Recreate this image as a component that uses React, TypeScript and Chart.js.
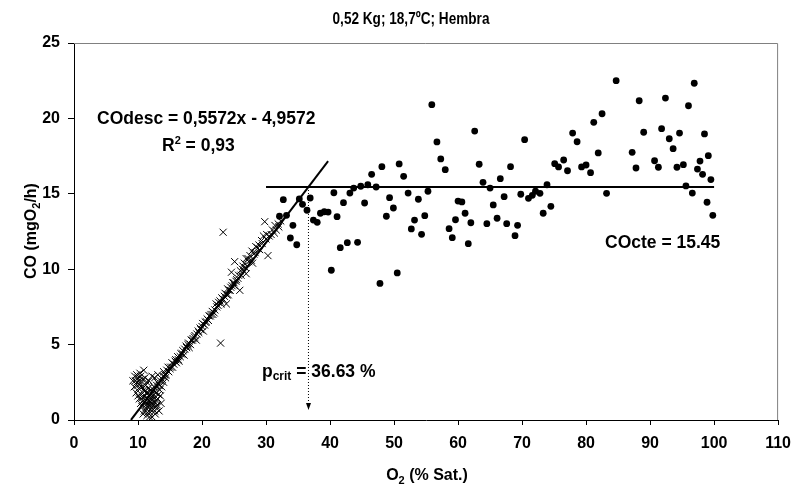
import React, { useEffect, useRef } from "react";
import { Chart, registerables } from "chart.js";

Chart.register(...registerables);

const FONT = '"Liberation Sans", Arial, Helvetica, sans-serif';

// Fitted relationships printed on the chart
const fitSlope = 0.5572;
const fitIntercept = -4.9572;
const fitR2 = "0,93";
const coConstant = 15.45;
const pCritical = 36.63;

// x extent of the two fitted segments
const fitRange = [8.9, 39.7];
const plateauRange = [30, 100];

const xTicks = [0, 10, 20, 30, 40, 50, 60, 70, 80, 90, 100, 110];
const yTicks = [0, 5, 10, 15, 20, 25];

// O2 (% sat.) vs CO (mgO2/h) while the oxygen was falling below the critical point
const hypoxicPoints: [number, number][] = [
  [9.2, 2.6], [9.4, 2.2], [9.5, 2.9], [9.6, 2.6], [9.7, 1.8], [9.8, 2.5], [9.8, 3.0],
  [9.9, 2.3], [10.0, 2.8], [10.0, 1.6], [10.1, 2.1], [10.2, 1.4], [10.2, 2.6], [10.3, 3.1],
  [10.4, 2.4], [10.4, 1.1], [10.4, 2.9], [10.5, 1.7], [10.6, 0.9], [10.6, 2.2], [10.7, 2.7],
  [10.7, 1.5], [10.8, 1.3], [10.8, 0.4], [10.9, 2.0], [10.9, 3.3], [11.0, 0.6], [11.0, 1.9],
  [11.0, 1.2], [11.1, 1.6], [11.1, 2.8], [11.2, 2.3], [11.2, 0.8], [11.3, 1.0], [11.3, 1.8],
  [11.4, 0.3], [11.4, 1.4], [11.4, 2.5], [11.5, 1.8], [11.5, 1.2], [11.5, 0.5], [11.6, 0.8],
  [11.6, 2.1], [11.7, 2.6], [11.7, 1.0], [11.8, 1.3], [11.8, 0.2], [11.8, 1.7], [11.9, 0.5],
  [11.9, 1.2], [12.0, 2.0], [12.0, 1.5], [12.0, 0.7], [12.1, 1.1], [12.1, 1.8], [12.2, 0.2],
  [12.2, 2.9], [12.2, 1.3], [12.3, 1.6], [12.3, 0.9], [12.4, 0.7], [12.4, 1.0], [12.4, 2.0],
  [12.5, 2.2], [12.5, 1.5], [12.6, 1.2], [12.6, 0.6], [12.6, 2.8], [12.7, 0.4], [12.7, 1.9],
  [12.8, 1.8], [12.8, 1.3], [12.9, 0.9], [12.9, 2.3], [13.0, 2.5], [13.0, 1.0], [13.1, 1.4],
  [13.1, 3.0], [13.2, 1.7], [13.3, 0.6], [13.3, 2.3], [13.4, 2.0], [13.5, 2.6], [13.5, 1.6],
  [13.6, 1.1], [13.7, 2.2], [13.8, 2.7], [13.9, 2.9], [14.0, 2.5], [14.0, 3.2], [14.2, 3.0],
  [14.3, 2.8], [14.4, 3.0], [14.5, 3.3], [14.7, 3.5], [14.8, 3.2], [15.0, 3.4], [15.1, 3.5],
  [15.3, 3.8], [15.4, 3.5], [15.6, 3.7], [15.8, 3.9], [15.9, 4.0], [16.0, 3.8], [16.2, 4.2],
  [16.3, 4.0], [16.4, 3.9], [16.6, 4.2], [16.7, 4.4], [16.9, 4.4], [17.0, 4.6], [17.2, 4.3],
  [17.3, 4.7], [17.5, 4.9], [17.6, 4.8], [17.8, 5.0], [17.9, 5.1], [18.0, 4.8], [18.2, 5.0],
  [18.3, 5.3], [18.5, 5.3], [18.6, 5.4], [18.8, 5.5], [18.9, 5.6], [19.1, 5.3], [19.2, 5.7],
  [19.4, 5.9], [19.5, 5.8], [19.7, 6.1], [19.8, 6.0], [20.0, 6.2], [20.1, 6.4], [20.2, 5.9],
  [20.4, 6.3], [20.5, 6.5], [20.7, 6.5], [20.8, 6.7], [21.0, 6.6], [21.1, 6.9], [21.3, 6.9],
  [21.4, 7.0], [21.6, 7.2], [21.7, 7.0], [21.9, 7.1], [22.0, 7.3], [22.2, 7.7], [22.3, 7.5],
  [22.5, 7.6], [22.6, 7.8], [22.8, 7.9], [22.9, 5.1], [23.0, 7.7], [23.1, 8.1], [23.3, 8.0],
  [23.3, 12.45], [23.5, 8.2], [23.6, 8.4], [23.8, 7.7], [23.9, 8.3], [24.0, 8.7], [24.1, 8.3],
  [24.2, 8.6], [24.4, 8.6], [24.5, 8.8], [24.6, 9.8], [24.7, 8.9], [24.8, 9.1], [25.0, 9.1],
  [25.1, 8.9], [25.1, 10.5], [25.3, 9.2], [25.4, 9.3], [25.6, 9.4], [25.7, 9.6], [25.9, 8.6],
  [26.0, 9.9], [26.1, 9.6], [26.3, 10.0], [26.4, 10.2], [26.6, 10.4], [26.8, 10.1], [26.9, 10.7],
  [26.9, 9.7], [27.2, 10.7], [27.3, 10.5], [27.5, 10.9], [27.7, 10.6], [27.8, 11.2], [27.9, 10.4],
  [28.1, 11.0], [28.3, 11.1], [28.4, 11.5], [28.7, 11.4], [28.9, 11.6], [29.0, 11.3], [29.3, 11.9],
  [29.4, 11.7], [29.6, 12.2], [29.8, 13.15], [30.0, 12.0], [30.1, 12.3], [30.3, 10.9], [30.5, 12.2],
  [30.8, 12.3], [31.0, 12.6], [31.3, 12.4], [31.4, 12.9], [31.6, 12.6], [31.9, 13.0], [32.0, 12.8],
  [32.3, 13.2]
];

// Readings at and above the critical saturation
const normoxicPoints: [number, number][] = [
  [32.1, 13.51], [32.7, 14.61], [33.2, 13.57], [33.8, 12.07], [34.2, 12.91], [34.8, 11.62],
  [35.2, 14.66], [35.7, 14.30], [36.4, 13.91], [36.9, 14.72], [37.4, 13.26], [38.0, 13.11],
  [38.5, 13.71], [39.1, 13.81], [39.7, 13.79], [40.2, 9.93], [40.6, 15.07], [41.1, 13.48],
  [41.6, 11.43], [42.1, 14.41], [42.7, 11.76], [43.1, 15.05], [43.7, 15.38], [44.3, 11.78],
  [44.8, 15.50], [45.4, 14.39], [45.9, 15.60], [46.5, 16.29], [47.2, 15.45], [47.8, 9.06],
  [48.1, 16.80], [48.8, 13.51], [49.3, 14.74], [49.9, 14.06], [50.5, 9.75], [50.8, 16.98],
  [51.5, 16.16], [52.2, 15.05], [52.7, 12.67], [53.2, 13.26], [53.8, 14.64], [54.3, 12.31],
  [54.8, 13.55], [55.3, 15.17], [55.9, 20.91], [56.7, 18.44], [57.3, 17.31], [58.0, 16.60],
  [58.6, 12.69], [59.1, 12.09], [59.6, 13.28], [60.0, 14.52], [60.6, 14.46], [61.1, 13.71],
  [61.6, 11.69], [62.0, 13.08], [62.6, 19.16], [63.3, 16.96], [63.9, 15.76], [64.5, 13.02],
  [65.0, 15.38], [65.5, 14.26], [66.1, 13.38], [66.6, 16.00], [67.2, 14.81], [67.6, 13.02],
  [68.2, 16.80], [68.9, 12.22], [69.3, 12.91], [69.8, 14.97], [70.4, 18.59], [71.0, 14.70],
  [71.6, 14.90], [72.1, 15.17], [72.8, 15.03], [73.3, 13.71], [73.9, 15.60], [74.5, 14.17],
  [75.1, 17.00], [75.7, 16.78], [76.5, 17.24], [77.1, 16.53], [77.9, 19.03], [78.6, 18.45],
  [79.3, 16.78], [80.0, 16.91], [80.7, 16.40], [81.2, 19.74], [81.9, 17.71], [82.5, 20.31],
  [83.2, 15.03], [84.7, 22.50], [87.2, 17.75], [87.8, 16.71], [88.3, 21.17], [89.0, 19.08],
  [90.7, 17.19], [91.3, 16.76], [91.8, 19.32], [92.4, 21.35], [93.0, 18.65], [93.6, 17.99],
  [94.2, 16.76], [94.6, 19.03], [95.2, 16.93], [95.6, 15.52], [96.0, 20.84], [96.6, 15.05],
  [96.9, 22.33], [97.4, 16.64], [97.8, 17.17], [98.2, 16.29], [98.5, 18.97], [98.9, 14.44],
  [99.1, 17.53], [99.5, 15.94], [99.8, 13.57]
];

type Run = { t: string; size: number; dy?: number };

function runsWidth(ctx: CanvasRenderingContext2D, runs: Run[]) {
  let w = 0;
  for (const r of runs) {
    ctx.font = `bold ${r.size}px ${FONT}`;
    w += ctx.measureText(r.t).width;
  }
  return w;
}

// Draws a line of mixed-size text; y is the baseline of the main text
function drawRuns(
  ctx: CanvasRenderingContext2D,
  runs: Run[],
  x: number,
  y: number,
  align: "left" | "center"
) {
  ctx.textBaseline = "alphabetic";
  ctx.textAlign = "left";
  let cx = align === "center" ? x - runsWidth(ctx, runs) / 2 : x;
  for (const r of runs) {
    ctx.font = `bold ${r.size}px ${FONT}`;
    ctx.fillText(r.t, cx, y + (r.dy || 0));
    cx += ctx.measureText(r.t).width;
  }
}

const labelsPlugin = {
  id: "labels",
  beforeDatasetsDraw(chart: any) {
    const { ctx, chartArea } = chart;
    ctx.save();
    ctx.strokeStyle = "#808080";
    ctx.lineWidth = 1;
    ctx.beginPath();
    ctx.moveTo(chartArea.left, chartArea.top + 0.5);
    ctx.lineTo(chartArea.right - 0.5, chartArea.top + 0.5);
    ctx.lineTo(chartArea.right - 0.5, chartArea.bottom);
    ctx.stroke();
    ctx.restore();
  },
  afterDraw(chart: any) {
    const { ctx } = chart;
    const xs = chart.scales.x;
    const ys = chart.scales.y;
    ctx.save();
    ctx.fillStyle = "#000";

    // chart title, set in a narrow face
    ctx.save();
    ctx.translate(411, 24);
    ctx.scale(0.8, 1);
    drawRuns(ctx, [{ t: "0,52 Kg; 18,7ºC; Hembra", size: 17 }], 0, 0, "center");
    ctx.restore();

    // axis titles
    drawRuns(
      ctx,
      [{ t: "O", size: 16 }, { t: "2", size: 11, dy: 4 }, { t: " (% Sat.)", size: 16 }],
      427,
      480,
      "center"
    );
    ctx.save();
    ctx.translate(36, 231);
    ctx.rotate(-Math.PI / 2);
    drawRuns(
      ctx,
      [{ t: "CO (mgO", size: 16 }, { t: "2", size: 11, dy: 4 }, { t: "/h)", size: 16 }],
      0,
      0,
      "center"
    );
    ctx.restore();

    // fitted equations
    const s = 17.5;
    const sign = fitIntercept < 0 ? " - " : " + ";
    const fmt = (v: number) => v.toFixed(4).replace(".", ",");
    drawRuns(
      ctx,
      [{ t: `COdesc = ${fmt(fitSlope)}x${sign}${fmt(Math.abs(fitIntercept))}`, size: s }],
      97,
      124,
      "left"
    );
    drawRuns(
      ctx,
      [{ t: "R", size: s }, { t: "2", size: 11, dy: -7 }, { t: ` = ${fitR2}`, size: s }],
      162,
      151,
      "left"
    );
    drawRuns(
      ctx,
      [{ t: "p", size: s }, { t: "crit", size: 12, dy: 3 }, { t: ` = ${pCritical.toFixed(2)} %`, size: s }],
      262,
      377,
      "left"
    );
    drawRuns(ctx, [{ t: `COcte = ${coConstant.toFixed(2)}`, size: s }], 605, 248, "left");

    // arrow head at the foot of the critical-point line
    const ax = Math.round(xs.getPixelForValue(pCritical)) + 0.5;
    const ay = ys.getPixelForValue(0.66);
    ctx.beginPath();
    ctx.moveTo(ax - 2.5, ay - 7);
    ctx.lineTo(ax + 2.5, ay - 7);
    ctx.lineTo(ax, ay);
    ctx.closePath();
    ctx.fill();
    ctx.restore();
  },
};

export default function App() {
  const canvasRef = useRef<HTMLCanvasElement | null>(null);

  useEffect(() => {
    const canvas = canvasRef.current;
    if (!canvas) return;

    const fitLine = fitRange.map((x) => ({ x, y: fitSlope * x + fitIntercept }));
    const plateauLine = plateauRange.map((x) => ({ x, y: coConstant }));
    const critLine = [
      { x: pCritical, y: coConstant },
      { x: pCritical, y: 1.0 },
    ];

    const tickFont = { family: FONT, size: 16, weight: "bold" as const };

    const chart = new Chart(canvas, {
      type: "scatter",
      data: {
        datasets: [
          {
            label: "COdesc",
            data: fitLine,
            showLine: true,
            borderColor: "#000",
            borderWidth: 2,
            pointRadius: 0,
          },
          {
            label: "COcte",
            data: plateauLine,
            showLine: true,
            borderColor: "#000",
            borderWidth: 2,
            pointRadius: 0,
          },
          {
            label: "pcrit",
            data: critLine,
            showLine: true,
            borderColor: "#000",
            borderWidth: 1,
            borderDash: [1, 2],
            pointRadius: 0,
          },
          {
            label: "normoxia",
            data: normoxicPoints.map(([x, y]) => ({ x, y })),
            pointStyle: "circle",
            pointRadius: 3.4,
            pointBackgroundColor: "#000",
            pointBorderColor: "#000",
            pointBorderWidth: 0,
          },
          {
            label: "hipoxia",
            data: hypoxicPoints.map(([x, y]) => ({ x, y })),
            pointStyle: "crossRot",
            pointRadius: 5,
            pointBorderColor: "#000",
            pointBorderWidth: 1,
          },
        ],
      },
      options: {
        animation: false,
        responsive: false,
        devicePixelRatio: 1,
        events: [],
        layout: { padding: { top: 43, right: 20, bottom: 0, left: 0 } },
        plugins: {
          legend: { display: false },
          tooltip: { enabled: false },
          title: { display: false },
        },
        scales: {
          x: {
            type: "linear",
            min: 0,
            max: 110,
            afterBuildTicks: (s: any) => {
              s.ticks = xTicks.map((v) => ({ value: v }));
            },
            afterFit: (s: any) => {
              s.height = 71;
            },
            grid: { drawOnChartArea: false, drawTicks: true, tickLength: 5, color: "#000" },
            border: { display: true, color: "#000", width: 1 },
            ticks: { font: tickFont, color: "#000", padding: 9, maxRotation: 0 },
          },
          y: {
            type: "linear",
            min: 0,
            max: 25,
            afterBuildTicks: (s: any) => {
              s.ticks = yTicks.map((v) => ({ value: v }));
            },
            afterFit: (s: any) => {
              s.width = 74;
            },
            grid: { drawOnChartArea: false, drawTicks: true, tickLength: 6, color: "#000" },
            border: { display: true, color: "#000", width: 1 },
            ticks: { font: tickFont, color: "#000", padding: 8 },
          },
        },
      },
      plugins: [labelsPlugin],
    });

    return () => chart.destroy();
  }, []);

  return (
    <div
      style={{
        position: "absolute",
        left: 0,
        top: 0,
        width: 800,
        height: 491,
        background: "#fff",
      }}
    >
      <canvas ref={canvasRef} width={800} height={491} />
    </div>
  );
}
